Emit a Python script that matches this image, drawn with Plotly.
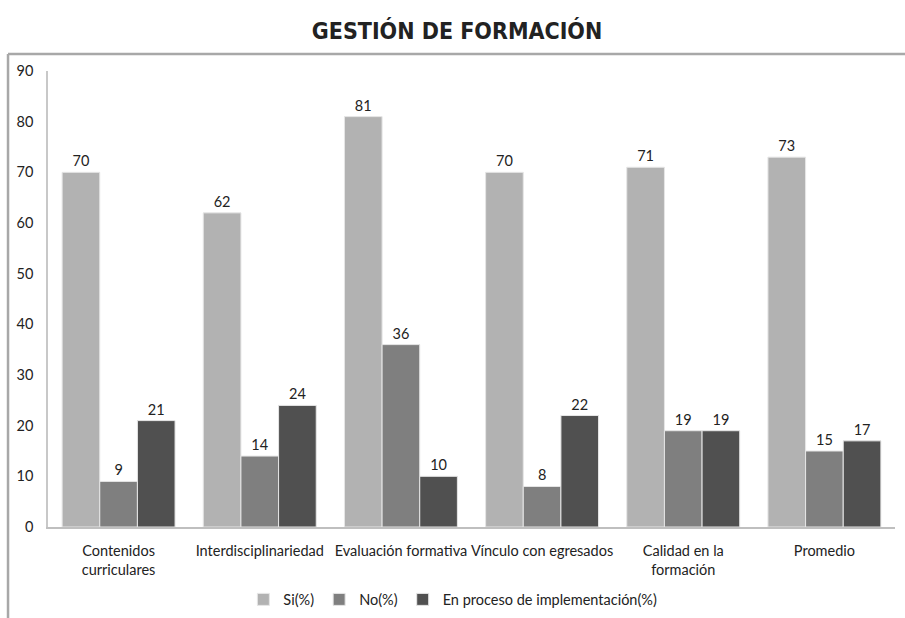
import plotly.graph_objects as go

categories = ["Contenidos<br>curriculares", "Interdisciplinariedad", "Evaluación formativa",
              "Vínculo con egresados", "Calidad en la<br>formación", "Promedio"]
si_vals = [70, 62, 81, 70, 71, 73]
no_vals = [9, 14, 36, 8, 19, 15]
proceso_vals = [21, 24, 10, 22, 19, 17]
y_ticks = [0, 10, 20, 30, 40, 50, 60, 70, 80, 90]

series = [
    ("Si(%)", si_vals, "#b2b2b2"),
    ("No(%)", no_vals, "#7f7f7f"),
    ("En proceso de implementación(%)", proceso_vals, "#505050"),
]

font_body = "Lato, Open Sans, sans-serif"

fig = go.Figure()
for name, vals, color in series:
    fig.add_trace(go.Bar(
        name=name, x=categories, y=vals,
        marker=dict(color=color, line=dict(color="#e6e6e6", width=1)),
        text=[str(v) for v in vals], textposition="outside",
        textfont=dict(family=font_body, size=14.5, color="#222"),
        cliponaxis=False,
    ))

fig.update_layout(
    width=905, height=618,
    margin=dict(l=48, r=10, t=71, b=91, autoexpand=False),
    paper_bgcolor="white", plot_bgcolor="white",
    barmode="group", bargap=0.2, bargroupgap=0.0,
    title=dict(text="<b>GESTIÓN DE FORMACIÓN</b>", x=0.505, xanchor="center",
               y=0.95, yanchor="middle",
               font=dict(family="DejaVu Sans Condensed, Liberation Sans Narrow, Roboto, sans-serif",
                         size=23, color="#222")),
    font=dict(family=font_body, size=14.5, color="#222"),
    showlegend=True,
    legend=dict(orientation="h", x=0.478, xanchor="center", yref="container",
                y=0.03, yanchor="middle",
                font=dict(family=font_body, size=14.5, color="#222"),
                itemwidth=30, tracegroupgap=0),
    xaxis=dict(showline=True, linecolor="#bfbfbf", linewidth=1.5, ticks="",
               showgrid=False, automargin=False, ticklabelstandoff=10, tickangle=0,
               tickfont=dict(family=font_body, size=14.5, color="#222")),
    yaxis=dict(range=[0, 90], tickvals=y_ticks, showline=True, linecolor="#c8c8c8",
               linewidth=1.5, showgrid=False, zeroline=False, ticks="",
               ticklabelstandoff=10, automargin=False,
               tickfont=dict(family=font_body, size=14.5, color="#222")),
)

# Outer frame: top and left border lines
fig.add_shape(type="line", xref="paper", yref="paper", x0=-0.0472, x1=1.02,
              y0=1.0373, y1=1.0373, line=dict(color="#a8a8a8", width=2.5))
fig.add_shape(type="line", xref="paper", yref="paper", x0=-0.0472, x1=-0.0472,
              y0=1.0373, y1=-0.25, line=dict(color="#a8a8a8", width=2.5))

fig.write_html("out.html")
